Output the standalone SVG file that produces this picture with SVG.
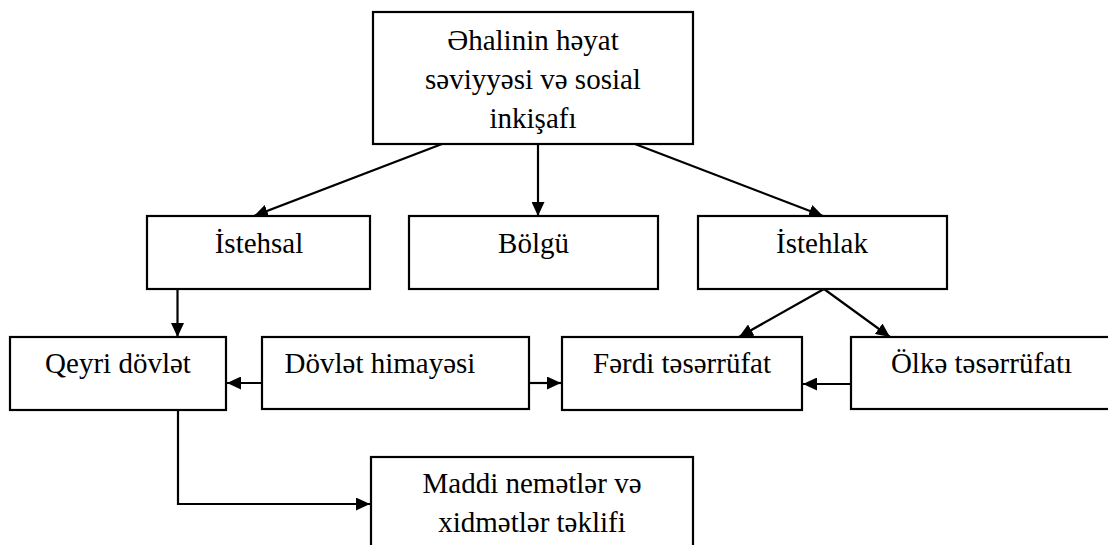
<svg xmlns="http://www.w3.org/2000/svg" width="1108" height="545" viewBox="0 0 1108 545">
<style>
.box{fill:#fff;stroke:#000;stroke-width:2.2}
.t{font-family:"Liberation Serif","DejaVu Serif","Times New Roman",serif;font-size:29px;fill:#000;text-anchor:middle}
.c{fill:none;stroke:#000;stroke-width:2.2}
</style>
<defs>
<marker id="ah" markerUnits="userSpaceOnUse" markerWidth="14" markerHeight="13" refX="14" refY="6.5" orient="auto">
<path d="M0,0 L14,6.5 L0,13 z" fill="#000"/>
</marker>
</defs>
<rect width="1108" height="545" fill="#fff"/>
<g id="connectors">
<path class="c" d="M442,144 L254,216" marker-end="url(#ah)"/>
<path class="c" d="M538,144 L538,216" marker-end="url(#ah)"/>
<path class="c" d="M635,144 L823,216" marker-end="url(#ah)"/>
<path class="c" d="M177.5,289 L177.5,337" marker-end="url(#ah)"/>
<path class="c" d="M824,289 L739,337" marker-end="url(#ah)"/>
<path class="c" d="M824,289 L890,337" marker-end="url(#ah)"/>
<path class="c" d="M262,383 L227,383" marker-end="url(#ah)"/>
<path class="c" d="M529,383 L561,383" marker-end="url(#ah)"/>
<path class="c" d="M851,384 L803,384" marker-end="url(#ah)"/>
<path class="c" d="M178,410 L178,504 L370,504" marker-end="url(#ah)"/>
</g>
<g id="n-top">
<rect class="box" x="373" y="12" width="320" height="132"/>
<text class="t" x="533" y="50">Əhalinin həyat</text>
<text class="t" x="533" y="89">səviyyəsi və sosial</text>
<text class="t" x="533" y="128">inkişafı</text>
</g>
<g id="n-istehsal">
<rect class="box" x="147" y="216" width="223" height="73"/>
<text class="t" x="259" y="253">İstehsal</text>
</g>
<g id="n-bolgu">
<rect class="box" x="409" y="216" width="249" height="73"/>
<text class="t" x="533.5" y="253">Bölgü</text>
</g>
<g id="n-istehlak">
<rect class="box" x="698" y="216" width="249" height="73"/>
<text class="t" x="822" y="253">İstehlak</text>
</g>
<g id="n-qeyri">
<rect class="box" x="10" y="337" width="216" height="73"/>
<text class="t" x="118" y="373">Qeyri dövlət</text>
</g>
<g id="n-dovlet">
<rect class="box" x="262" y="337" width="267" height="72"/>
<text class="t" x="380" y="373">Dövlət himayəsi</text>
</g>
<g id="n-ferdi">
<rect class="box" x="562" y="337" width="240" height="73"/>
<text class="t" x="682" y="373">Fərdi təsərrüfat</text>
</g>
<g id="n-olke">
<rect class="box" x="851" y="337" width="280" height="72"/>
<text class="t" x="981.5" y="373">Ölkə təsərrüfatı</text>
</g>
<g id="n-maddi">
<rect class="box" x="371" y="457" width="322" height="110"/>
<text class="t" x="532" y="493">Maddi nemətlər və</text>
<text class="t" x="532" y="532">xidmətlər təklifi</text>
</g>
</svg>
